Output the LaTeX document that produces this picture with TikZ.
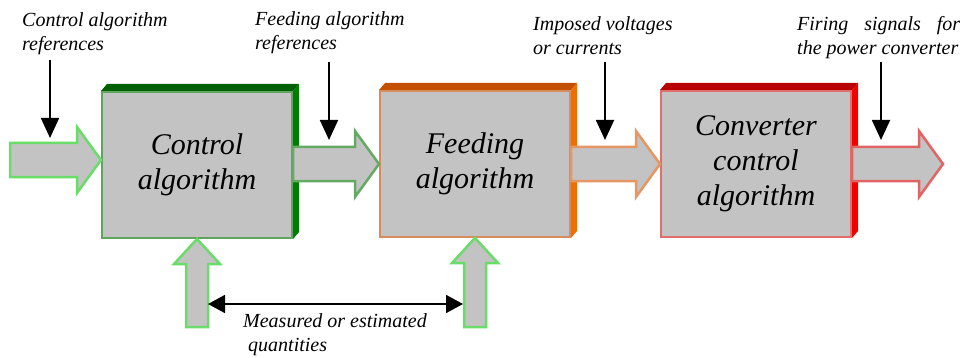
\documentclass[tikz,border=0pt]{standalone}
\usepackage{fontspec}
\setmainfont{Liberation Serif}
\usetikzlibrary{positioning, calc, arrows.meta, backgrounds}

\definecolor{boxgray}{RGB}{195,195,195}
\definecolor{grnline}{RGB}{95,165,95}
\definecolor{grntop}{RGB}{0,95,0}
\definecolor{grnside}{RGB}{0,125,0}
\definecolor{orgline}{RGB}{215,140,95}
\definecolor{orgtop}{RGB}{195,80,0}
\definecolor{orgside}{RGB}{240,110,0}
\definecolor{redline}{RGB}{225,110,110}
\definecolor{redtop}{RGB}{185,0,0}
\definecolor{redside}{RGB}{240,0,0}
\definecolor{inlime}{RGB}{105,220,105}
\definecolor{arrgrn}{RGB}{100,170,100}
\definecolor{arrorg}{RGB}{230,150,100}
\definecolor{arrred}{RGB}{225,100,100}

\tikzset{
  block/.style={draw, fill=boxgray, line width=2pt, minimum width=190pt, minimum height=146pt,
    inner sep=0pt, align=center, font=\fontsize{30}{35}\selectfont\itshape},
  fat/.style={fill=boxgray, line width=2.5pt, line join=miter},
  sig/.style={line width=1.8pt, -{Triangle[length=20pt,width=18pt]}},
  lbl/.style={anchor=north west, inner sep=0pt, align=left, font=\fontsize{20}{24}\selectfont\itshape},
}

% raised edge on top and right of a block
\newcommand{\slab}[3]{%
  \begin{scope}[on background layer]
    \fill[#2] (#1.north west) -- ++(6,-7) -- ($(#1.north east)+(6,-7)$) -- (#1.north east) -- cycle;
    \fill[#3] (#1.north east) -- ++(6,-7) -- ($(#1.south east)+(6,-7)$) -- (#1.south east) -- cycle;
  \end{scope}}

% wide outlined arrow, horizontal: colour, tail, tip
\newcommand{\hfat}[3]{%
  \coordinate (ft) at (#2 |- #3);
  \draw[fat, draw=#1] ($(ft)+(0,-17)$) -- ($(#3)+(-24,-17)$) -- ++(0,-16) -- (#3)
    -- ++(-24,33) -- ++(0,-16) -- ($(ft)+(0,17)$) -- cycle;}

% wide outlined arrow, pointing up: colour, tail, tip
\newcommand{\vfat}[3]{%
  \coordinate (ft) at (#3 |- #2);
  \draw[fat, draw=#1] ($(ft)+(-11,0)$) -- ($(#3)+(-11,25)$) -- ++(-12,0) -- (#3)
    -- ++(23,25) -- ++(-12,0) -- ($(ft)+(11,0)$) -- cycle;}

\begin{document}
\begin{tikzpicture}[x=1pt, y=-1pt]
    \useasboundingbox (0,0) rectangle (965,358);

    % ================= Blocks =================
    \node[block, draw=grnline] (ctrl) at (197,165) {Control\\algorithm};
    \node[block, draw=orgline] (feed) at (475,164) {Feeding\\algorithm};
    \node[block, draw=redline] (conv) at (756,164) {Converter\\control\\algorithm};
    \slab{ctrl}{grntop}{grnside}
    \slab{feed}{orgtop}{orgside}
    \slab{conv}{redtop}{redside}

    % ================= Signal flow =================
    \coordinate (src) at (10,160);
    \coordinate (cin) at ([yshift=5pt]ctrl.west);
    \coordinate (out) at (943,164);
    \hfat{inlime}{src}{cin}
    \hfat{arrgrn}{ctrl.east}{feed.west}
    \hfat{arrorg}{feed.east}{conv.west}
    \hfat{arrred}{conv.east}{out}

    % References and outputs
    \node[lbl] (lctrl) at (22,12) {Control algorithm\\references};
    \node[lbl] (lfeed) at (255,11) {Feeding algorithm\\references};
    \node[lbl] (limp) at (533,16) {Imposed voltages\\or currents};
    \node[lbl] (lfire) at (797,16) {\makebox[163pt][s]{Firing signals for}\\the power converter};

    \coordinate (r1) at (50,138);
    \coordinate (r2) at (329,140);
    \coordinate (r3) at (605,140);
    \coordinate (r4) at (881,140);
    \draw[sig] (r1 |- 0,60) -- (r1);
    \draw[sig] (r2 |- 0,62) -- (r2);
    \draw[sig] (r3 |- 0,62) -- (r3);
    \draw[sig] (r4 |- 0,62) -- (r4);

    % ================= Measurements =================
    \coordinate (m1) at (197,327);
    \coordinate (m2) at (475,327);
    \vfat{inlime}{m1}{ctrl.south}
    \vfat{inlime}{m2}{feed.south}
    \draw[line width=1.8pt, {Triangle[length=17pt,width=18pt]}-{Triangle[length=17pt,width=18pt]}]
        ($(m1)+(11,-23)$) -- ($(m2)+(-12,-23)$);
    \node[lbl] (lmeas) at (243,313) {Measured or estimated\\\hspace*{5pt}quantities};

\end{tikzpicture}
\end{document}
